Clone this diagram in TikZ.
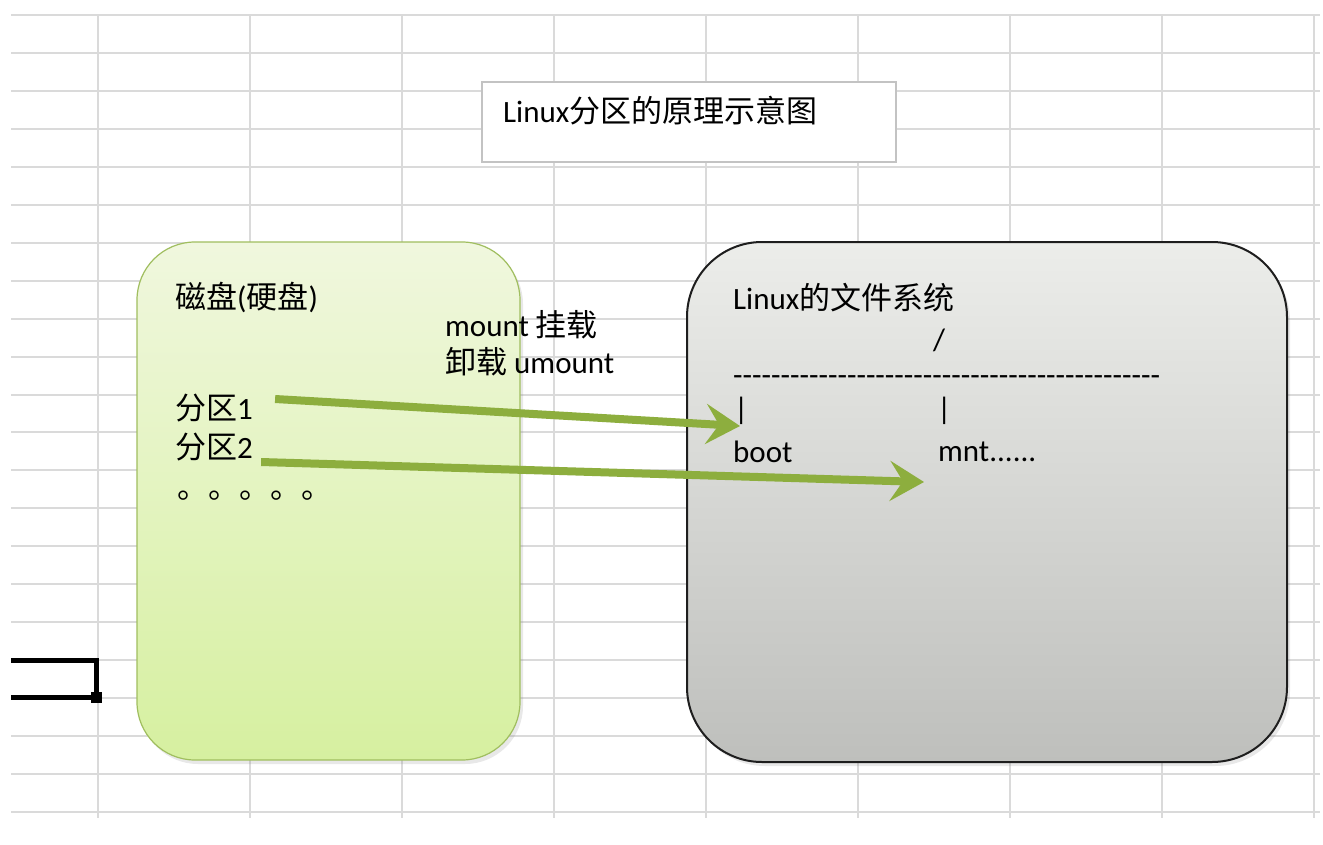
\documentclass[tikz,border=0pt]{standalone}
\usepackage{fontspec}
\setmainfont{Carlito}
\newfontfamily\cjk{Noto Sans CJK SC}
\usepackage{xcolor}
\usepackage{tikz}
\usetikzlibrary{arrows.meta,positioning,calc,shadows}
\definecolor{cellgrid}{RGB}{218, 218, 218}
\definecolor{disktop}{RGB}{240, 247, 222}
\definecolor{diskbottom}{RGB}{214, 240, 160}
\definecolor{diskedge}{RGB}{160, 190, 95}
\definecolor{fstop}{RGB}{236, 237, 234}
\definecolor{fsbottom}{RGB}{190, 191, 188}
\definecolor{fsedge}{RGB}{30, 30, 30}
\definecolor{mountgreen}{RGB}{141, 174, 62}
\definecolor{titleedge}{RGB}{195, 195, 195}
\newcommand{\zh}[1]{{\cjk #1}}

\begin{document}
\begin{tikzpicture}[x=1pt, y=-1pt,
    font=\fontsize{31}{37}\selectfont,
    gridline/.style={draw=cellgrid, line width=2pt},
    txt/.style={inner sep=0pt, anchor=west},
    diskbox/.style={draw=diskedge, line width=1.2pt, rounded corners=58pt, top color=disktop, bottom color=diskbottom, drop shadow={opacity=0.18, shadow xshift=3pt, shadow yshift=-4pt}},
    fsbox/.style={draw=fsedge, line width=2pt, rounded corners=75pt, top color=fstop, bottom color=fsbottom, drop shadow={opacity=0.18, shadow xshift=3pt, shadow yshift=-4pt}},
    mountarrow/.style={draw=mountgreen, line width=8pt, -{Stealth[length=34pt, width=40pt, inset=13pt]}}]
    \fill[white] (0,0) rectangle (1323,844);
    \useasboundingbox (0,0) rectangle (1323,844);
    \foreach \k in {0,...,21}
        \draw[gridline] (11,15+37.95*\k) -- (1320,15+37.95*\k);
    \foreach \x in {98,250,...,1314}
        \draw[gridline] (\x,15) -- (\x,818);

    \draw[line width=5pt] (11,660) -- (96,660) -- (96,697) -- (11,697);
    \fill (91,692) rectangle (102,703);

    \node [draw=titleedge, line width=1.2pt, fill=white, minimum width=414pt, minimum height=80pt] (title) at (689,122) {};
    \node [txt] (titletext) at (503,111) {Linux\zh{分区的原理示意图}};

    \node [diskbox, minimum width=383pt, minimum height=518pt] (disk) at (328.5,501) {};
    \node [fsbox, minimum width=600pt, minimum height=520pt] (fs) at (987,502) {};

    \node [txt] (disklabel) at (175,297) {\zh{磁盘}(\zh{硬盘})};
    \node [txt] (part1) at (175,408) {\zh{分区}1};
    \node [txt] (part2) at (175,447) {\zh{分区}2};
    \node [txt, anchor=base west] (more) at (177,498) {\zh{。。。。。}};

    \node [txt] (mount) at (445,325) {mount \zh{挂载}};
    \node [txt] (umount) at (445,362) {\zh{卸载} umount};

    \node [txt] (fslabel) at (733,298) {Linux\zh{的文件系统}};
    \node [txt] (root) at (933,340) {/};
    \node [txt, anchor=base west] (rule) at (733,385) {\foreach \i in {1,...,45}{-}};
    \node [txt] (bar1) at (734,411) {|};
    \node [txt] (bar2) at (937,411) {|};
    \node [txt] (boot) at (733,452) {boot};
    \node [txt] (mnt) at (938,452) {mnt......};

    \coordinate (bootin) at (740,426);
    \coordinate (mntin) at (924,482);
    \draw [mountarrow] ([xshift=22pt, yshift=9pt]part1.east) -- (bootin);
    \draw [mountarrow] ([xshift=8pt, yshift=-15pt]part2.east) -- (mntin);
\end{tikzpicture}
\end{document}
